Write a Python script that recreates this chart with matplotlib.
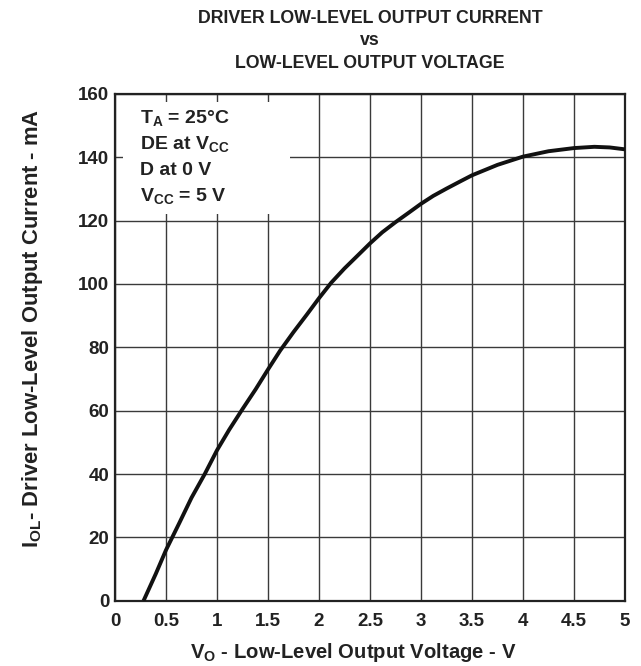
import matplotlib.pyplot as plt
from matplotlib.patches import Rectangle

plt.rcParams['font.family'] = ['Liberation Sans', 'DejaVu Sans']
plt.rcParams['mathtext.fontset'] = 'custom'
plt.rcParams['mathtext.rm'] = 'Liberation Sans'
plt.rcParams['mathtext.it'] = 'Liberation Sans:italic'
plt.rcParams['mathtext.bf'] = 'Liberation Sans:bold'

# values
v_out = [0.28, 0.4, 0.5, 0.63, 0.75, 0.88, 1.0, 1.12, 1.25, 1.38, 1.5, 1.62,
         1.75, 1.88, 2.0, 2.12, 2.25, 2.38, 2.5, 2.62, 2.75, 2.88, 3.0,
         3.12, 3.25, 3.38, 3.5, 3.75, 4.0, 4.25, 4.5, 4.7, 4.85, 5.0]
i_ol = [0, 8.5, 16, 24.5, 32.5, 40, 47.5, 54, 60.5, 66.8, 73, 79,
        84.8, 90.3, 95.5, 100.4, 104.9, 109, 112.8, 116.3, 119.5, 122.5, 125.3,
        127.8, 130.1, 132.3, 134.3, 137.6, 140.2, 141.9, 142.9, 143.3, 143.1, 142.5]

x_ticks = [0, 0.5, 1, 1.5, 2, 2.5, 3, 3.5, 4, 4.5, 5]
x_labels = ['0', '0.5', '1', '1.5', '2', '2.5', '3', '3.5', '4', '4.5', '5']
y_ticks = [0, 20, 40, 60, 80, 100, 120, 140, 160]

txt = '#222222'

fig = plt.figure(figsize=(6.41, 6.66), dpi=100)
ax = fig.add_axes([0.1794, 0.098, 0.7956, 0.761])

ax.set_xlim(0, 5)
ax.set_ylim(0, 160)
ax.set_xticks(x_ticks)
ax.set_xticklabels(x_labels)
ax.set_yticks(y_ticks)
ax.tick_params(axis='x', length=0, pad=9, labelsize=13.5, colors=txt)
ax.tick_params(axis='y', length=0, pad=4, labelsize=13.5, colors=txt)
for lab in ax.get_xticklabels() + ax.get_yticklabels():
    lab.set_fontweight('bold')

ax.grid(True, color='#3a3a3a', linewidth=1.0)
ax.set_axisbelow(True)
for sp in ax.spines.values():
    sp.set_linewidth(1.6)
    sp.set_color('#222222')

# blank area behind the conditions text
ax.add_patch(Rectangle((0.08, 122), 1.64, 35.5, facecolor='white',
                       edgecolor='none', zorder=1.5))

ax.plot(v_out, i_ol, color='#111111', linewidth=2.8, zorder=3,
        solid_joinstyle='round', solid_capstyle='butt')

cond = ['$\\mathbf{T_A}$ = 25°C', 'DE at $\\mathbf{V_{CC}}$', 'D at 0 V',
        '$\\mathbf{V_{CC}}$ = 5 V']
for k, s in enumerate(cond):
    ax.text(0.245, 152.3 - k * 8.2, s, fontsize=14, fontweight='bold',
            color=txt, va='center', ha='left', zorder=4)

ax.set_xlabel('$\\mathbf{V_O}$ - Low-Level Output Voltage - V', fontsize=14.6,
              fontweight='bold', color=txt)
ax.xaxis.set_label_coords(0.467, -0.079)
ax.set_ylabel('$\\mathbf{I_{OL}}$- Driver Low-Level Output Current - mA',
              fontsize=15.8, fontweight='bold', color=txt, va='center')
ax.yaxis.set_label_coords(-0.162, 0.538)

ax.set_title('DRIVER LOW-LEVEL OUTPUT CURRENT\nvs\nLOW-LEVEL OUTPUT VOLTAGE',
             fontsize=12.8, fontweight='bold', color=txt, linespacing=1.42,
             pad=19)

plt.savefig('out.png', dpi=100)
